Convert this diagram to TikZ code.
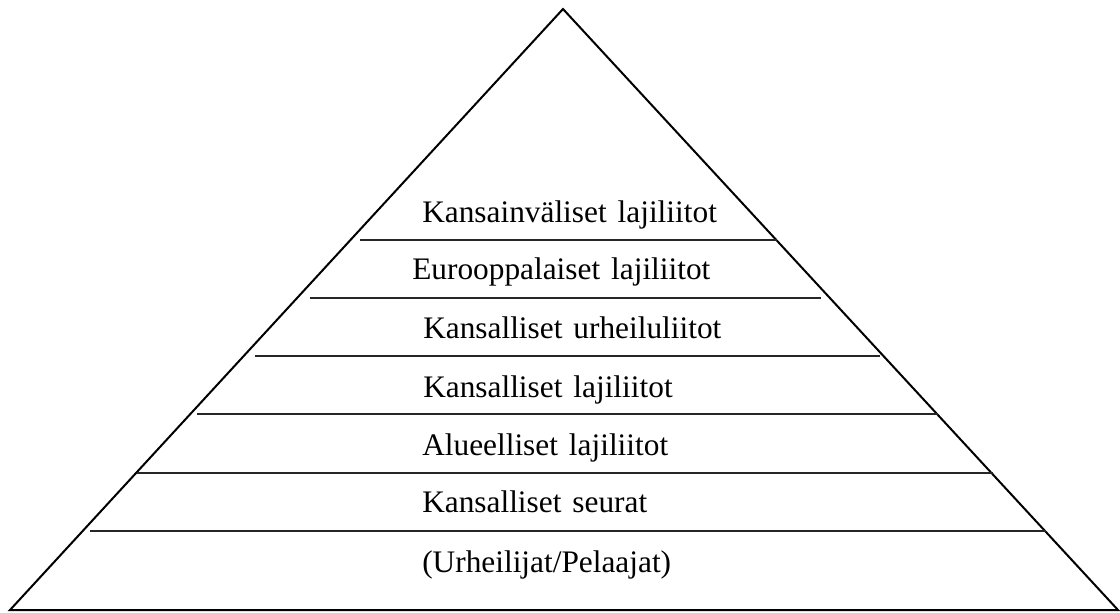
\documentclass[tikz,border=0pt]{standalone}
\usepackage{fontspec}
\setmainfont[WordSpace=1.4]{Liberation Serif}
\tikzset{
  edge/.style={line width=1.5pt, line join=miter},
  divider/.style={line width=0.9pt, black!85},
  level/.style={anchor=base west, inner sep=0pt, font=\fontsize{23.5}{28}\selectfont}
}
\begin{document}
\begin{tikzpicture}[x=0.75pt,y=-0.75pt]
  \useasboundingbox (0,0) rectangle (1120,613);
  \draw[edge] (10,610) -- (563,9) -- (1118,610) -- cycle;
  \foreach \y/\a/\b in {240/360/777, 298/310/821, 356/255/880, 414/197/938, 473/137/993, 531/90/1046} {
    \draw[divider] (\a,\y) -- (\b,\y);
  }
  \foreach \i/\x/\y/\t in {1/422/222/{Kansainväliset lajiliitot}, 2/412/279/{Eurooppalaiset lajiliitot}, 3/423/338/{Kansalliset urheiluliitot}, 4/423/397/{Kansalliset lajiliitot}, 5/422/455/{Alueelliset lajiliitot}, 6/422/512/{Kansalliset seurat}, 7/422/572/{(Urheilijat/Pelaajat)}} {
    \node[level] (lvl\i) at (\x,\y) {\t};
  }
\end{tikzpicture}
\end{document}
